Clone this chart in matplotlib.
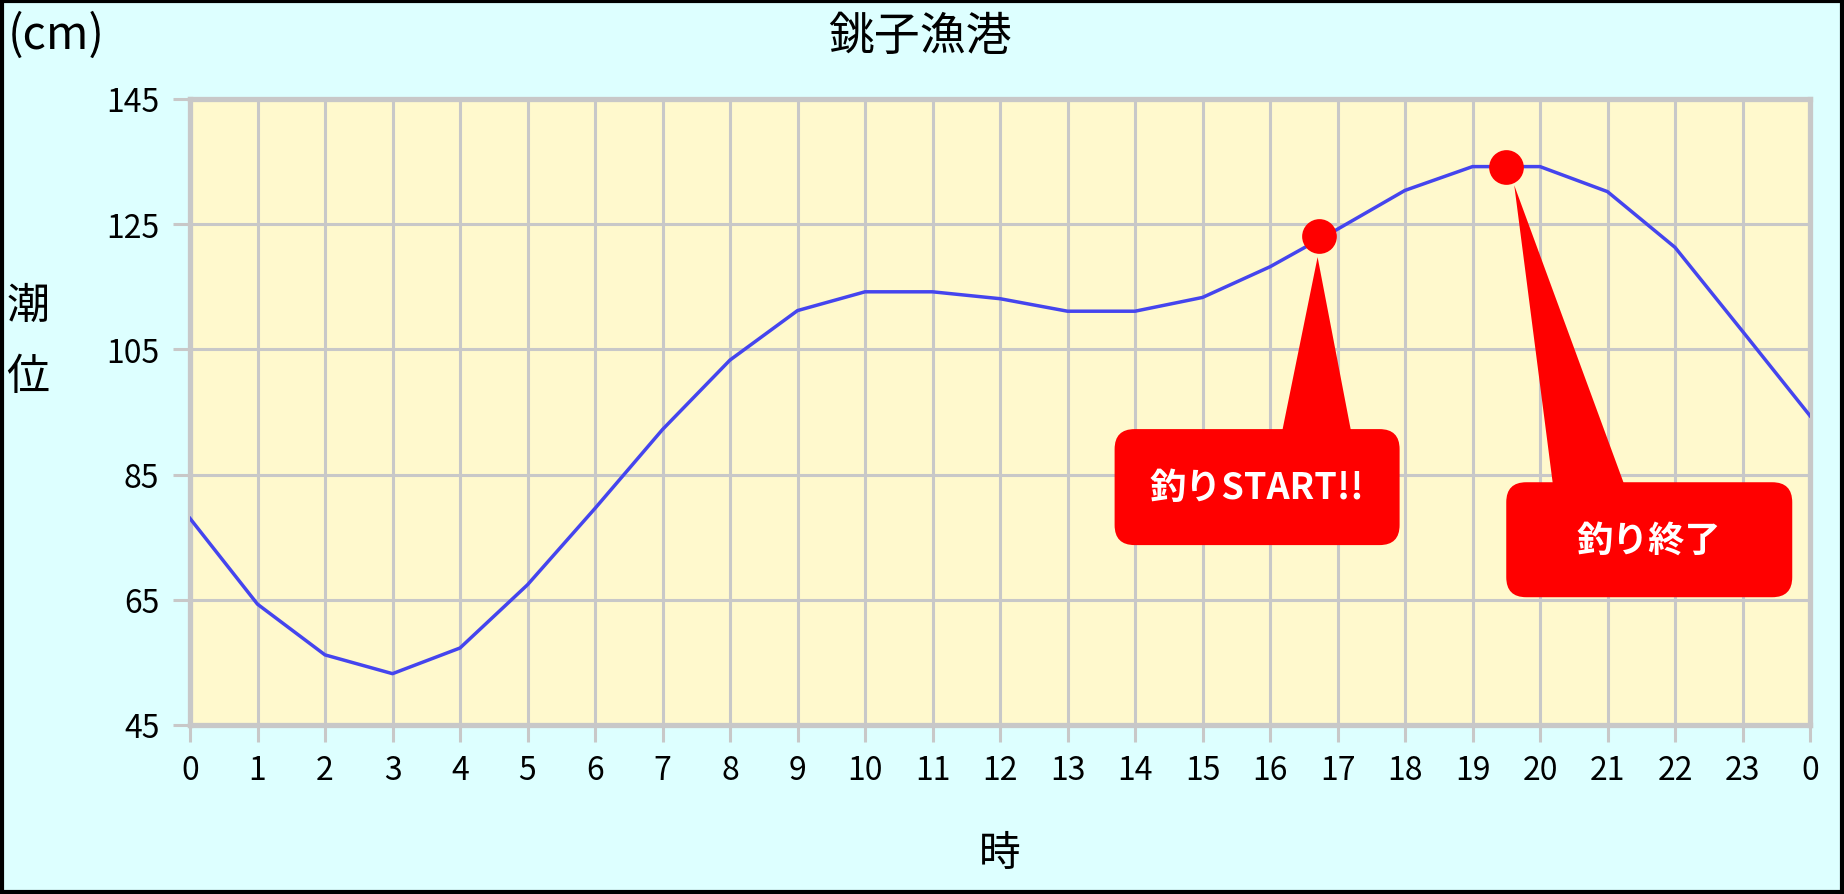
import matplotlib
matplotlib.use("Agg")
import matplotlib.pyplot as plt
import matplotlib.transforms as mtransforms
from matplotlib.patches import FancyBboxPatch, Polygon, Rectangle

plt.rcParams['font.family'] = ['Noto Sans CJK JP', 'DejaVu Sans']

# ---- data ----
hour_labels = ['0', '1', '2', '3', '4', '5', '6', '7', '8', '9', '10', '11', '12',
               '13', '14', '15', '16', '17', '18', '19', '20', '21', '22', '23', '0']
tide_levels = [78.0, 64.3, 56.2, 53.2, 57.3, 67.4, 79.6, 92.2, 103.3, 111.2, 114.2, 114.2,
               113.1, 111.1, 111.1, 113.3, 118.2, 124.2, 130.4, 134.2, 134.2, 130.2,
               121.3, 107.9, 94.4]
y_ticks = [45, 65, 85, 105, 125, 145]
marker_hours = [16.72, 19.5]
marker_levels = [123.1, 134.1]
callout_texts = ['釣りSTART!!', '釣り終了']

title = '銚子漁港'
unit_label = '(cm)'
y_label = ['潮', '位']
x_label = '時'

W, H = 1844, 895
DPI = 100
fig = plt.figure(figsize=(W / DPI, H / DPI), dpi=DPI)
fig.patch.set_facecolor('#DDFFFF')

ax = fig.add_axes([190 / W, 1 - 726 / H, 1620 / W, 626 / H])
ax.set_facecolor('#FFF9CD')
x = list(range(len(tide_levels)))
ax.plot(x, tide_levels, color='#4545EE', lw=2.5, zorder=3, solid_joinstyle='round')
ax.set_xlim(0, len(tide_levels) - 1)
ax.set_ylim(y_ticks[0], y_ticks[-1])
ax.set_xticks(x)
ax.set_xticklabels(hour_labels)
ax.set_yticks(y_ticks)
ax.grid(True, color='#C8C8C8', lw=2.2)
ax.set_axisbelow(True)
for s in ax.spines.values():
    s.set_color('#C8C8C8')
    s.set_linewidth(3.8)
ax.tick_params(axis='both', colors='#C8C8C8', width=2.2, length=12,
               labelcolor='black', labelsize=23)
ax.tick_params(axis='x', pad=9)
ax.tick_params(axis='y', pad=10)

# texts
fig.text(8 / W, 1 - 36 / H, unit_label, fontsize=33, ha='left', va='center')
fig.text(920 / W, 1 - 37 / H, title, fontsize=33, ha='center', va='center')
fig.text(28 / W, 1 - 307 / H, y_label[0], fontsize=31, ha='center', va='center')
fig.text(28 / W, 1 - 378 / H, y_label[1], fontsize=31, ha='center', va='center')
fig.text(1000 / W, 1 - 855 / H, x_label, fontsize=30, ha='center', va='center')

# callouts (pixel offsets relative to markers)
fig.canvas.draw()
ident = mtransforms.IdentityTransform()
red = '#FF0000'
# (box dx0, dx1, dy_top, dy_bottom, base dx0, base dx1, apex dx, apex dy)
layouts = [
    (-204, 81, -193, -309, -37, 33, -1, -21),
    (0, 286, -315, -430, 47, 119, 8, -18),
]
for (mx, my), txt, lay in zip(zip(marker_hours, marker_levels), callout_texts, layouts):
    px, py = ax.transData.transform((mx, my))
    bx0, bx1, bt, bb, p0, p1, adx, ady = lay
    box = FancyBboxPatch((px + bx0, py + bb), bx1 - bx0, bt - bb,
                         boxstyle='round,pad=0,rounding_size=20',
                         transform=ident, facecolor=red, edgecolor='none', zorder=5)
    fig.add_artist(box)
    tri = Polygon([(px + p0, py + bt - 5), (px + p1, py + bt - 5), (px + adx, py + ady)],
                  closed=True, transform=ident, facecolor=red, edgecolor='none', zorder=5)
    fig.add_artist(tri)
    fig.text((px + (bx0 + bx1) / 2) / W, (py + (bt + bb) / 2) / H, txt, color='white',
             fontsize=26, fontweight='bold', ha='center', va='center', zorder=7)

ax.plot(marker_hours, marker_levels, 'o', color=red, ms=25, mec='none', zorder=6,
        clip_on=False)

# figure border
fig.add_artist(Rectangle((2 / W, 2 / H), (W - 4) / W, (H - 4) / H, transform=fig.transFigure,
                         fill=False, edgecolor='black', lw=3, zorder=10))

fig.savefig('out.png', dpi=DPI, facecolor=fig.get_facecolor())
